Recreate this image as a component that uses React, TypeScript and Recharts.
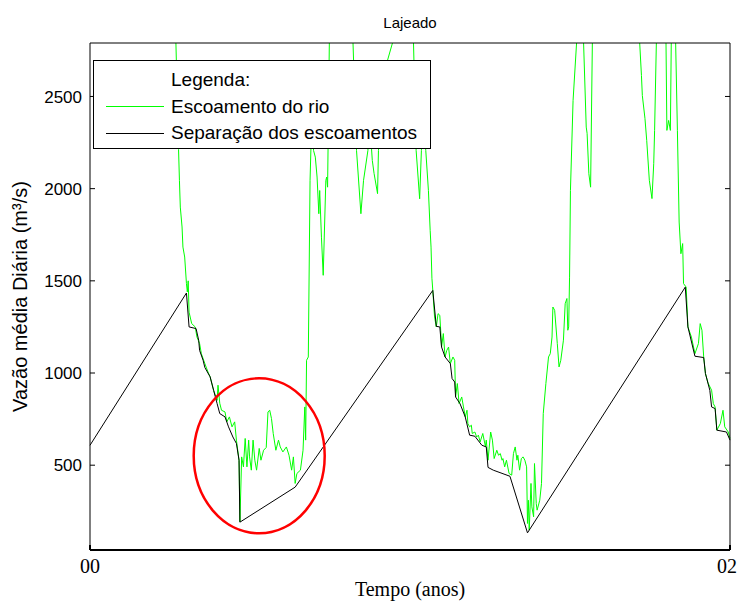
import React from "react";
import {
  LineChart,
  Line,
  XAxis,
  YAxis,
  Legend,
  ReferenceArea,
  ReferenceDot,
} from "recharts";

// daily river flow (m³/s), day index over two years
const flowDays = [
  0, 18, 40, 62, 80, 94, 98, 101, 102, 103, 105, 106, 108, 110, 111, 112, 113,
  116, 120, 122, 125, 127, 131, 135, 137, 141, 145, 146, 148, 150, 154, 156, 159,
  162, 165, 167, 170, 171, 173, 175, 177, 179, 181, 182, 184, 186, 188, 190, 193,
  195, 198, 201, 203, 205, 207, 209, 212, 215, 217, 220, 224, 227, 230, 232, 234,
  236, 240, 243, 245, 246, 247, 249, 251, 252, 253, 255, 257, 259, 261, 262, 264,
  266, 269, 270, 271, 273, 277, 286, 295, 300, 304, 309, 312, 317, 319, 322, 324,
  328, 329, 336, 345, 351, 359, 365, 369, 372, 376, 378, 380, 383, 386, 388, 389,
  390, 391, 393, 395, 397, 399, 400, 401, 403, 405, 407, 409, 411, 414, 416, 417,
  419, 421, 424, 426, 428, 430, 431, 433, 435, 436, 439, 441, 443, 445, 448, 451,
  452, 454, 457, 459, 461, 464, 466, 468, 470, 471, 473, 475, 478, 481, 483, 485,
  487, 488, 490, 492, 494, 496, 498, 499, 500, 501, 503, 504, 506, 507, 509, 510,
  513, 515, 517, 520, 523, 525, 527, 528, 530, 533, 535, 537, 540, 542, 544, 545,
  546, 547, 548, 551, 555, 559, 563, 566, 567, 569, 571, 573, 580, 592, 604, 615,
  623, 627, 629, 630, 633, 635, 638, 641, 643, 644, 646, 651, 657, 658, 660, 662,
  663, 666, 668, 670, 672, 674, 676, 677, 680, 682, 686, 690, 694, 696, 698, 700,
  702, 705, 709, 711, 713, 715, 719, 722, 724, 728, 730,
];
const flowValues = [
  3400, 4300, 5600, 4500, 3700, 3100, 2790, 2213, 2045, 1900, 1792, 1683, 1629,
  1485, 1440, 1500, 1330, 1268, 1250, 1195, 1160, 1105, 1051, 1000, 980, 906, 852,
  934, 836, 798, 789, 735, 762, 708, 735, 636, 527, 193, 545, 491, 645, 491, 636,
  545, 473, 636, 527, 473, 591, 527, 581, 596, 789, 798, 753, 672, 581, 636, 599,
  572, 599, 554, 473, 545, 401, 455, 473, 581, 816, 636, 1069, 1087, 2045, 2218,
  2478, 2207, 2171, 2063, 1864, 1990, 1737, 1530, 2045, 2063, 2008, 2790, 3500,
  4300, 3400, 2790, 2207, 1864, 2045, 2207, 2370, 2153, 2083, 1973, 2207, 2640,
  2790, 3500, 3900, 3200, 2790, 2207, 1945, 2207, 2424, 2207, 1990, 1774, 1683,
  1514, 1449, 1304, 1250, 1322, 1313, 1232, 1141, 1214, 1087, 1123, 1141, 1051,
  1087, 1069, 870, 943, 834, 870, 816, 762, 798, 726, 708, 717, 672, 680, 653, 663,
  626, 672, 602, 636, 527, 680, 636, 536, 581, 554, 563, 527, 536, 491, 527, 455,
  446, 563, 599, 527, 554, 473, 536, 545, 527, 491, 184, 310, 148, 401, 274, 220,
  509, 292, 256, 310, 401, 780, 943, 1087, 1105, 1195, 1358, 1340, 1160, 1033,
  1069, 1178, 1376, 1404, 1232, 1250, 1520, 1990, 2478, 2790, 3300, 2790, 2334,
  2300, 2081, 2008, 2790, 3800, 4600, 5200, 4100, 3300, 2790, 2614, 2505, 2381,
  2262, 2045, 1946, 2135, 2316, 2790, 3400, 2790, 2316, 2370, 2316, 2790, 3100,
  2790, 2316, 1819, 1647, 1702, 1485, 1466, 1250, 1195, 1105, 1160, 1268, 1232,
  1087, 997, 945, 907, 834, 816, 690, 726, 798, 708, 680, 645,
];

// baseflow separation
const baseDays = [
  0, 110, 113, 121, 124, 125, 129, 131, 137, 141, 145, 148, 154, 158, 163, 167,
  170, 171, 234, 391, 395, 399, 401, 405, 411, 413, 416, 417, 422, 428, 433, 439,
  447, 452, 454, 460, 479, 499, 679, 682, 690, 700, 702, 707, 709, 713, 715, 726,
  730,
];
const baseValues = [
  608, 1434, 1250, 1241, 1177, 1123, 1069, 1030, 979, 906, 834, 780, 762, 708,
  653, 618, 527, 191, 381, 1448, 1253, 1250, 1141, 1087, 1051, 970, 951, 870, 834,
  762, 663, 657, 608, 599, 488, 473, 440, 133, 1466, 1250, 1091, 1084, 997, 906,
  816, 807, 690, 680, 636,
];

const yTicks = [500, 1000, 1500, 2000, 2500];
const xTickValues = [0, 730];
const xTickLabels = ["00", "02"];

// highlighted dry period
const circleDay = 193;
const circleValue = 551;

const flowData = flowDays.map((day, i) => ({ day, flow: flowValues[i] }));
const baseData = baseDays.map((day, i) => ({ day, base: baseValues[i] }));

const SANS = "'Liberation Sans', Arial, sans-serif";
const SERIF = "'Liberation Serif', 'Times New Roman', serif";

function LegendBox({ payload }: any) {
  return (
    <div
      style={{
        boxSizing: "border-box",
        width: 338,
        height: 89,
        border: "1px solid #000",
        background: "#fff",
        fontFamily: SANS,
        fontSize: 19,
        color: "#000",
        paddingTop: 6,
      }}
    >
      <div style={{ height: 26.5, lineHeight: "26.5px", paddingLeft: 77 }}>
        Legenda:
      </div>
      {(payload || []).map((p: any) => (
        <div
          key={p.value}
          style={{ height: 26.5, display: "flex", alignItems: "center" }}
        >
          <span
            style={{
              display: "inline-block",
              width: 58,
              height: 0,
              borderTop: `1px solid ${p.color}`,
              marginLeft: 12,
              marginRight: 7,
            }}
          />
          <span style={{ whiteSpace: "nowrap" }}>{p.value}</span>
        </div>
      ))}
    </div>
  );
}

function YLabel({ viewBox }: any) {
  const cx = 20;
  const cy = viewBox.y + viewBox.height / 2;
  return (
    <text
      x={cx}
      y={cy}
      transform={`rotate(-90, ${cx}, ${cy})`}
      textAnchor="middle"
      dominantBaseline="central"
      fontFamily={SANS}
      fontSize={20}
      fill="#000"
    >
      Vazão média Diária (m³/s)
    </text>
  );
}

function TitleLabel({ viewBox }: any) {
  const cx = viewBox.x + viewBox.width / 2;
  return (
    <text
      x={cx}
      y={22}
      textAnchor="middle"
      dominantBaseline="central"
      fontFamily={SANS}
      fontSize={15}
      fill="#000"
    >
      Lajeado
    </text>
  );
}

export default function App() {
  return (
    <div
      style={{
        position: "absolute",
        left: 0,
        top: 0,
        width: 737,
        height: 601,
        background: "#fff",
      }}
    >
      <LineChart
        width={737}
        height={601}
        margin={{ top: 0, right: 0, bottom: 0, left: 0 }}
      >
        <XAxis
          xAxisId="top"
          orientation="top"
          type="number"
          dataKey="day"
          domain={[0, 730]}
          ticks={xTickValues}
          height={43}
          tickSize={-5}
          tickFormatter={() => ""}
          stroke="#000"
          label={<TitleLabel />}
        />
        <XAxis
          type="number"
          dataKey="day"
          domain={[0, 730]}
          ticks={xTickValues}
          height={51}
          tickSize={-5}
          tickMargin={14}
          tickFormatter={(v: number) => xTickLabels[xTickValues.indexOf(v)]}
          tick={{ fontFamily: SERIF, fontSize: 20, fill: "#000" }}
          stroke="#000"
          strokeWidth={2}
          label={{
            value: "Tempo (anos)",
            position: "insideBottom",
            offset: 5,
            fontFamily: SERIF,
            fontSize: 20,
            fill: "#000",
          }}
        />
        <YAxis
          type="number"
          domain={[40, 2790]}
          ticks={yTicks}
          allowDataOverflow
          width={90}
          tickSize={-5}
          tickMargin={13}
          tick={{ fontFamily: SANS, fontSize: 17, fill: "#000" }}
          stroke="#000"
          label={<YLabel />}
        />
        <YAxis
          yAxisId="r"
          orientation="right"
          type="number"
          domain={[40, 2790]}
          ticks={yTicks}
          allowDataOverflow
          width={7}
          tickSize={-5}
          tickFormatter={() => ""}
          stroke="#000"
        />
        <ReferenceArea fill="none" stroke="#000" strokeWidth={1} />
        <Line
          data={flowData}
          dataKey="flow"
          name="Escoamento do rio"
          type="linear"
          stroke="#00ff00"
          strokeWidth={1}
          dot={false}
          activeDot={false}
          isAnimationActive={false}
        />
        <Line
          data={baseData}
          dataKey="base"
          name="Separação dos escoamentos"
          type="linear"
          stroke="#000"
          strokeWidth={1}
          dot={false}
          activeDot={false}
          isAnimationActive={false}
        />
        <ReferenceDot
          x={circleDay}
          y={circleValue}
          ifOverflow="visible"
          shape={(p: any) => (
            <ellipse
              cx={p.cx}
              cy={p.cy}
              rx={65.5}
              ry={77.5}
              fill="none"
              stroke="#ff0000"
              strokeWidth={2.5}
            />
          )}
        />
        <Legend
          layout="horizontal"
          verticalAlign="middle"
          align="center"
          wrapperStyle={{ left: 93, top: 60, width: 338, height: 89 }}
          content={<LegendBox />}
        />
      </LineChart>
    </div>
  );
}
